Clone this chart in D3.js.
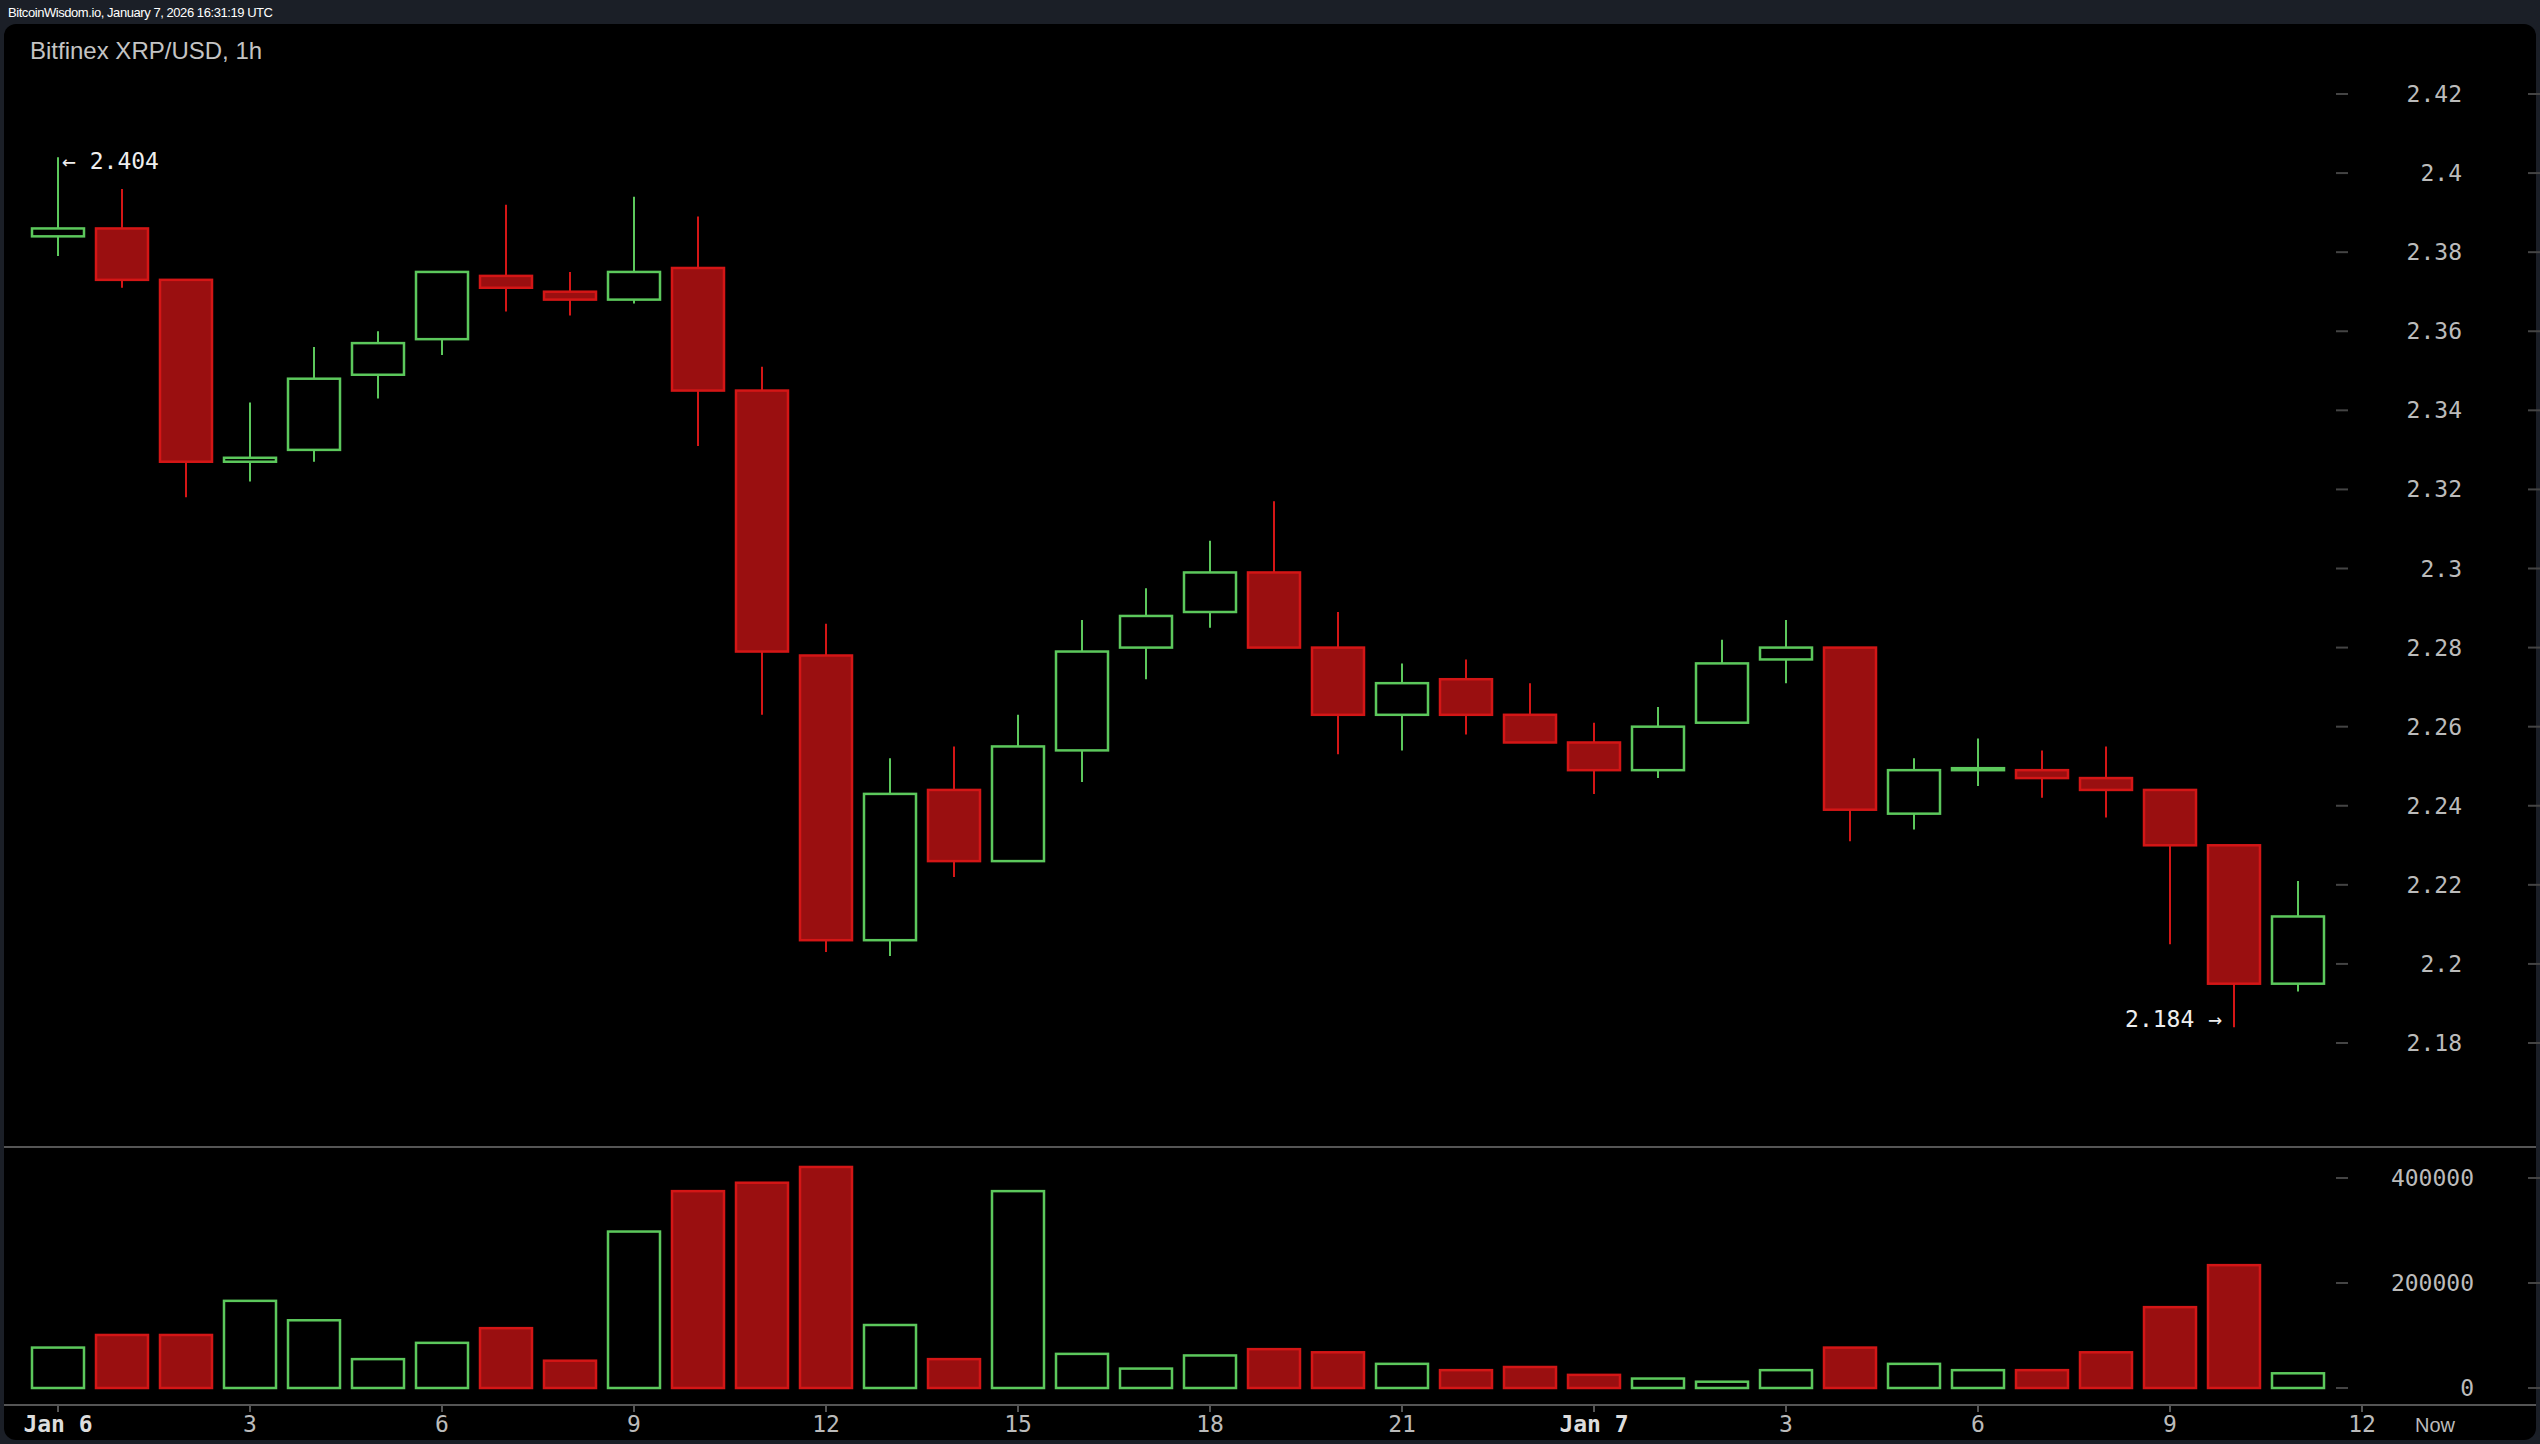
<!DOCTYPE html>
<html><head><meta charset="utf-8">
<script src="https://cdn.jsdelivr.net/npm/d3@7"></script>
<style>body{margin:0;background:#1b1f27;overflow:hidden}</style>
</head><body>
<svg id="chart" width="2540" height="1444"></svg>
<script>
// hourly candles, Jan 6 00:00 .. Jan 7 11:00
const opens  = [2.384,2.386,2.373,2.327,2.330,2.349,2.358,2.374,2.370,2.368,2.376,2.345,2.278,2.206,2.244,2.226,2.254,2.280,2.289,2.299,2.280,2.263,2.272,2.263,2.256,2.249,2.261,2.277,2.280,2.238,2.249,2.249,2.247,2.244,2.230,2.195];
const closes = [2.386,2.373,2.327,2.328,2.348,2.357,2.375,2.371,2.368,2.375,2.345,2.279,2.206,2.243,2.226,2.255,2.279,2.288,2.299,2.280,2.263,2.271,2.263,2.256,2.249,2.260,2.276,2.280,2.239,2.249,2.2495,2.247,2.244,2.230,2.195,2.212];
const highs  = [2.404,2.396,2.373,2.342,2.356,2.360,2.375,2.392,2.375,2.394,2.389,2.351,2.286,2.252,2.255,2.263,2.287,2.295,2.307,2.317,2.289,2.276,2.277,2.271,2.261,2.265,2.282,2.287,2.280,2.252,2.257,2.254,2.255,2.244,2.230,2.221];
const lows   = [2.379,2.371,2.318,2.322,2.327,2.343,2.354,2.365,2.364,2.367,2.331,2.263,2.203,2.202,2.222,2.226,2.246,2.272,2.285,2.280,2.253,2.254,2.258,2.256,2.243,2.247,2.261,2.271,2.231,2.234,2.245,2.242,2.237,2.205,2.184,2.193];
const volumes = [77000,101000,101000,166000,129000,55000,86000,114000,52000,298000,375000,391000,421000,120000,55000,375000,65000,37000,62000,74000,68000,46000,34000,40000,25000,18000,12000,34000,77000,46000,34000,34000,68000,154000,234000,28000];
const priceTicks = [2.18,2.2,2.22,2.24,2.26,2.28,2.3,2.32,2.34,2.36,2.38,2.4,2.42];
const volTicks = [0,200000,400000];
const hourTicks = [0,3,6,9,12,15,18,21,24,27,30,33,36];
const hourLabels = ["Jan 6","3","6","9","12","15","18","21","Jan 7","3","6","9","12"];

const data = opens.map((o,i)=>({i,o,c:closes[i],h:highs[i],l:lows[i],v:volumes[i],up:closes[i]>=o}));
const GREEN = "#5cc85c", RED_F = "#9a0f10", RED_S = "#d41616";
const mono = "DejaVu Sans Mono, monospace";

const svg = d3.select("#chart");
svg.append("text").attr("x",8).attr("y",17).attr("fill","#fff")
  .style("font","13px 'Liberation Sans', Arial").attr("textLength",265).text("BitcoinWisdom.io, January 7, 2026 16:31:19 UTC");
svg.append("rect").attr("x",4).attr("y",24).attr("width",2532).attr("height",1416).attr("rx",12).attr("fill","#000");
svg.append("text").attr("x",30).attr("y",59).attr("fill","#c4c4c4")
  .style("font","24px 'Liberation Sans', Arial").text("Bitfinex XRP/USD, 1h");

const x = d3.scaleLinear().domain([0,36]).range([58,2362]);
const y = d3.scaleLinear().domain([2.18,2.42]).range([1043,94]);
const yv = d3.scaleLinear().domain([0,400000]).range([1388,1178]);
const bw = 52;

// separators
svg.append("line").attr("x1",4).attr("x2",2536).attr("y1",1147).attr("y2",1147).attr("stroke","#555").attr("stroke-width",2);
svg.append("line").attr("x1",4).attr("x2",2536).attr("y1",1405).attr("y2",1405).attr("stroke","#555").attr("stroke-width",2);

// price axis
const pa = svg.append("g");
priceTicks.forEach(t=>{
  pa.append("line").attr("x1",2336).attr("x2",2348).attr("y1",y(t)).attr("y2",y(t)).attr("stroke","#444").attr("stroke-width",2);
  pa.append("line").attr("x1",2528).attr("x2",2540).attr("y1",y(t)).attr("y2",y(t)).attr("stroke","#444").attr("stroke-width",2);
  pa.append("text").attr("x",2462).attr("y",y(t)).attr("dy","0.35em").attr("text-anchor","end")
    .attr("fill","#bbb").style("font",`23px ${mono}`).text(d3.format("")(t));
});
volTicks.forEach(t=>{
  pa.append("line").attr("x1",2336).attr("x2",2348).attr("y1",yv(t)).attr("y2",yv(t)).attr("stroke","#444").attr("stroke-width",2);
  pa.append("line").attr("x1",2528).attr("x2",2540).attr("y1",yv(t)).attr("y2",yv(t)).attr("stroke","#444").attr("stroke-width",2);
  pa.append("text").attr("x",2474).attr("y",yv(t)).attr("dy","0.35em").attr("text-anchor","end")
    .attr("fill","#bbb").style("font",`23px ${mono}`).text(t);
});

// time axis
hourTicks.forEach((h,k)=>{
  svg.append("line").attr("x1",x(h)).attr("x2",x(h)).attr("y1",1405).attr("y2",1412).attr("stroke","#555").attr("stroke-width",2);
  const bold = hourLabels[k].startsWith("Jan");
  svg.append("text").attr("x",x(h)).attr("y",1432).attr("text-anchor","middle")
    .attr("fill", bold ? "#ddd" : "#bbb").style("font",`${bold?"bold ":""}23px ${mono}`).text(hourLabels[k]);
});
svg.append("text").attr("x",2435).attr("y",1432).attr("text-anchor","middle").attr("fill","#bbb")
  .style("font","20px 'Liberation Sans', Arial").text("Now");

// candles
const cg = svg.append("g").selectAll("g").data(data).join("g");
cg.append("line").attr("x1",d=>x(d.i)).attr("x2",d=>x(d.i)).attr("y1",d=>y(d.h)).attr("y2",d=>y(d.l))
  .attr("stroke",d=>d.up?GREEN:RED_S).attr("stroke-width",2);
cg.append("rect").attr("x",d=>x(d.i)-bw/2).attr("width",bw)
  .attr("y",d=>y(Math.max(d.o,d.c))).attr("height",d=>Math.max(2,Math.abs(y(d.o)-y(d.c))))
  .attr("fill",d=>d.up?"#000":RED_F).attr("stroke",d=>d.up?GREEN:RED_S).attr("stroke-width",2.5);

// volume bars
svg.append("g").selectAll("rect").data(data).join("rect")
  .attr("x",d=>x(d.i)-bw/2).attr("width",bw).attr("y",d=>yv(d.v)).attr("height",d=>yv(0)-yv(d.v))
  .attr("fill",d=>d.up?"#000":RED_F).attr("stroke",d=>d.up?GREEN:RED_S).attr("stroke-width",2.5);

// high / low annotations
const iMax = d3.maxIndex(highs), iMin = d3.minIndex(lows);
svg.append("text").attr("x",x(iMax)+4).attr("y",y(highs[iMax])+4).attr("dy","0.35em")
  .attr("fill","#eee").style("font",`23px ${mono}`).text("← " + highs[iMax]);
svg.append("text").attr("x",x(iMin)-12).attr("y",y(lows[iMin])-8).attr("dy","0.35em").attr("text-anchor","end")
  .attr("fill","#eee").style("font",`23px ${mono}`).text(lows[iMin] + " →");
</script>
</body></html>
